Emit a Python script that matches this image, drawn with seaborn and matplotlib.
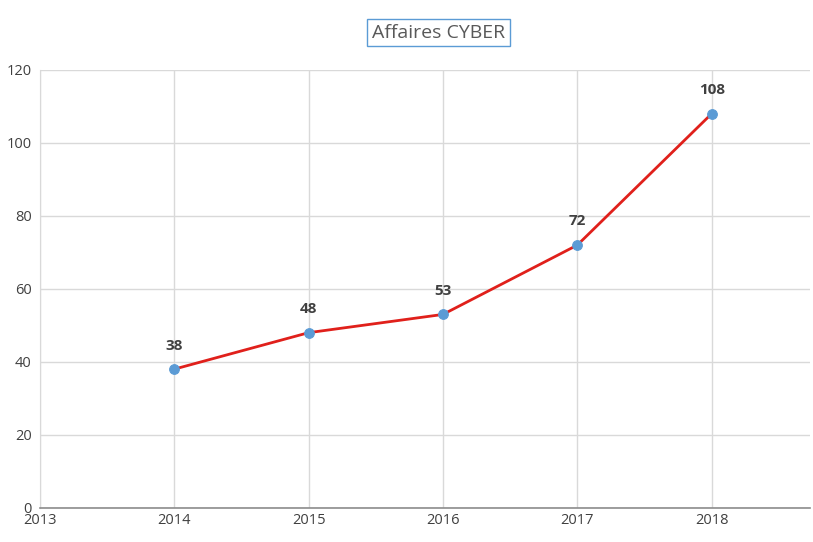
import matplotlib
matplotlib.use("Agg")
import matplotlib.pyplot as plt
import seaborn as sns
import pandas as pd

# Data

years = [2014, 2015, 2016, 2017, 2018]
affaires = [38, 48, 53, 72, 108]

df = pd.DataFrame({"annee": years, "affaires": affaires})

sns.set_style("white")
plt.rcParams['font.family'] = ['Open Sans', 'DejaVu Sans']

fig = plt.figure(figsize=(8.13, 5.42), dpi=100)
ax = fig.add_axes([0.049, 0.063, 0.947, 0.808])

sns.lineplot(data=df, x="annee", y="affaires", ax=ax, color="#e0201b",
             linewidth=2, marker="o", markersize=7,
             markerfacecolor="#5b9bd5", markeredgecolor="#5b9bd5", zorder=3)

for x, y in zip(years, affaires):
    ax.annotate(str(y), (x, y), xytext=(0, 12), textcoords="offset points",
                ha="center", va="bottom", fontsize=11, fontweight="bold",
                color="#404040")

ax.set_xlim(2013, 2018.73)
ax.set_ylim(0, 120)
ax.set_xticks([2013, 2014, 2015, 2016, 2017, 2018])
ax.set_yticks(range(0, 121, 20))
ax.grid(True, color="#d9d9d9", linewidth=1)
ax.set_axisbelow(True)
ax.tick_params(axis="both", labelsize=10.5, colors="#404040", length=0)
ax.tick_params(axis="y", pad=6)
ax.set_xlabel("")
ax.set_ylabel("")

for side in ["top", "right"]:
    ax.spines[side].set_visible(False)
ax.spines["left"].set_color("#d9d9d9")
ax.spines["bottom"].set_color("#8c8c8c")
ax.spines["bottom"].set_linewidth(1.2)

fig.text(0.539, 0.94, "Affaires CYBER", ha="center", va="center",
         fontsize=14, color="#595959",
         bbox=dict(boxstyle="square,pad=0.25", facecolor="white",
                   edgecolor="#5b9bd5", linewidth=1))

fig.savefig("out.png", dpi=100)
